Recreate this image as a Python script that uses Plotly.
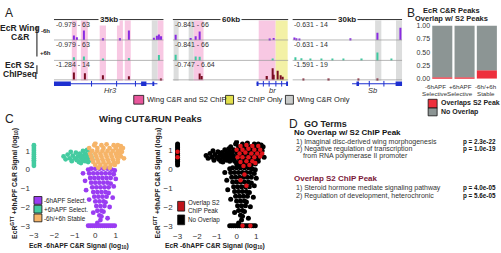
import plotly.graph_objects as go

W, H = 501, 253
FONT = "Liberation Sans, Arial, sans-serif"

# ======================= DATA =======================
# ---- Panel A: genome browser windows (positions in kb from window start) ----
gene_names = ["Hr3", "br", "Sb"]
window_kb = [35, 60, 30]
scale_bar_labels = ["35kb", "60kb", "30kb"]
track_range_labels = [
    ["-0.979 - 63", "-0.979 - 63", "-1.284 - 14"],
    ["-0.841 - 66", "-0.841 - 66", "-0.747 - 6.64"],
    ["-0.631 - 14", "-0.631 - 14", "-1.591 - 19"],
]
track_max = [[63, 63, 14], [66, 66, 6.64], [14, 14, 19]]

hr3_m6_pos = [6.5, 7.3, 9.6, 15.8, 21.2, 23.8, 32.0, 32.8, 33.5, 34.3]
hr3_m6_val = [17, 10, 35, 6, 6, 35, 8, 16, 20, 14]
hr3_p6_pos = [6.5, 9.6, 15.8, 23.8, 33.5]
hr3_p6_val = [12, 14, 5, 9, 20]
hr3_s2_pos = [6.4, 9.8, 15.5, 23.8, 34.2]
hr3_s2_val = [6.0, 5.5, 3.8, 3.0, 1.2]

br_m6_pos = [1.5, 9.5, 12.0, 14.0, 50.5, 52.5]
br_m6_val = [20, 8, 14, 33, 5, 8]
br_p6_pos = [1.5, 12.0, 14.0, 52.0]
br_p6_val = [22, 15, 14, 4]
br_s2_pos = [14.0, 15.0, 49.0, 51.8, 52.5, 54.4, 56.0, 57.2]
br_s2_val = [2.5, 1.5, 1.5, 4.5, 2.0, 3.5, 1.8, 1.2]

sb_m6_pos = [0.5, 1.2, 2.0, 15.8, 23.3, 29.5]
sb_m6_val = [2.0, 1.5, 1.2, 1.5, 6.0, 10.0]
sb_p6_pos = [0.8, 2.5, 5.0, 8.0, 11.0, 14.0, 19.0, 23.3, 27.0]
sb_p6_val = [2.5, 1.8, 1.2, 1.0, 1.5, 1.0, 1.2, 6.5, 1.5]
sb_s2_pos = [3.0, 10.0, 18.0, 23.3]
sb_s2_val = [0.8, 0.6, 0.7, 1.0]

hr3_band_start = [5.7, 8.6, 14.6, 20.1, 22.6, 31.2, 33.1]
hr3_band_end = [7.3, 10.8, 16.6, 22.0, 24.5, 33.1, 35.0]
hr3_band_kind = ["both", "both", "both", "both", "both", "wing", "both"]
br_band_start = [0.5, 8.3, 10.9, 44.6, 53.4]
br_band_end = [3.1, 10.9, 16.0, 53.4, 59.6]
br_band_kind = ["wing", "wing", "both", "both", "s2"]
sb_band_start = [22.6, 28.3]
sb_band_end = [24.3, 30.0]
sb_band_kind = ["wing", "wing"]

hr3_gene_span = [0.0, 33.0]
hr3_exon_start = [0.0, 27.8, 31.4]
hr3_exon_end = [5.4, 29.5, 32.0]
hr3_arrows = [12.0, 20.0, 26.0]
br_gene_span = [43.5, 59.8]
br_exon_start = [43.5, 58.8]
br_exon_end = [44.5, 59.8]
br_arrows = [47.0, 50.0, 53.5, 56.5]
sb_gene_span = [16.3, 30.0]
sb_exon_start = [17.5, 28.2]
sb_exon_end = [18.2, 30.0]
sb_arrows = [21.0, 25.0]
gene_label_kb = [18.1, 51.8, 21.8]

legend_a_labels = ["Wing C&R and S2 ChIP", "S2 ChIP Only", "Wing C&R Only"]

# ---- Panel B ----
b_categories = ["-6hAPF<br>Selective", "+6hAPF<br>Selective", "-6h/+6h<br>Stable"]
b_overlap = [0.03, 0.03, 0.16]
b_no_overlap = [0.97, 0.97, 0.84]
b_ticks = [0, 0.25, 0.5, 0.75, 1.0]
b_tick_text = ["0.00", "0.25", "0.50", "0.75", "1.00"]

# ---- Panel C (log10 signals) ----
m6_x = [-0.35, -0.2, 0.0, 0.2, 0.4, 0.6, 0.8, 0.95,
        -0.3, -0.1, 0.1, 0.3, 0.5, 0.7, 0.9,
        -0.25, -0.05, 0.15, 0.35, 0.55, 0.75,
        -0.2, 0.0, 0.2, 0.4, 0.6, 0.75,
        -0.15, 0.05, 0.25, 0.45, 0.65,
        -0.1, 0.1, 0.3, 0.5, 0.65,
        -0.05, 0.15, 0.35, 0.55,
        0.0, 0.2, 0.4, 0.5,
        0.05, 0.25, 0.45,
        0.1, 0.3, 0.4,
        0.2, 0.3,
        0.25,
        -0.5, -0.45, 0.9, 0.85, -0.3, 0.7, -0.1, 0.6, 0.1, 1.0, -0.6,
        -0.35, -0.25, -0.15, -0.05, 0.05, 0.15, 0.25, 0.35, 0.45, 0.55, 0.65, 0.75, 0.85, 0.95]
m6_y = [0.0, 0.05, 0.05, 0.05, 0.05, 0.05, 0.0, -0.05,
        -0.2, -0.2, -0.2, -0.2, -0.2, -0.2, -0.25,
        -0.45, -0.45, -0.45, -0.45, -0.45, -0.45,
        -0.7, -0.7, -0.7, -0.7, -0.7, -0.75,
        -0.95, -0.95, -0.95, -0.95, -0.95,
        -1.2, -1.2, -1.2, -1.2, -1.25,
        -1.45, -1.45, -1.45, -1.45,
        -1.7, -1.7, -1.7, -1.75,
        -1.95, -1.95, -1.95,
        -2.2, -2.2, -2.25,
        -2.45, -2.5,
        -2.7,
        -0.6, -1.1, -0.9, -1.5, -1.6, -2.0, -2.3, -2.6, -2.85, -0.5, -0.2,
        -3, -3, -3, -3, -3, -3, -3, -3, -3, -3, -3, -3, -3, -3]

p6_x = [-1.55, -1.45, -1.35, -1.25, -1.15, -1.1, -1.0, -0.95, -0.9, -0.85,
        -0.8, -0.75, -0.7, -0.65, -0.6, -0.55, -0.5, -0.5, -0.45, -0.4,
        -0.35, -0.35, -0.3, -0.25, -0.25, -0.2, -0.15, -0.6, -0.4, -1.2, -0.7,
        -3, -3, -3, -3, -3, -3, -3, -3, -3, -3, -3, -3]
p6_y = [0.7, 0.55, 0.8, 0.6, 0.45, 0.75, 0.6, 0.9, 0.5, 0.7,
        0.4, 0.85, 0.6, 0.75, 0.5, 0.65, 0.85, 0.45, 0.7, 0.55,
        0.8, 0.4, 0.65, 0.5, 0.9, 0.7, 0.55, 1.0, 1.05, 0.95, 0.35,
        0.2, 0.3, 0.4, 0.5, 0.6, 0.7, 0.8, 0.9, 1.0, 1.1, 1.2, 1.3]

st_x = [0.9, 1.1, 1.25, 0.3,
        0.1, 0.4, 0.7, 1.0, 1.25,
        -0.15, 0.1, 0.35, 0.6, 0.85, 1.1, 1.3,
        -0.25, 0.0, 0.25, 0.5, 0.75, 1.0, 1.2,
        -0.2, 0.05, 0.3, 0.55, 0.8, 1.05, 1.25,
        -0.15, 0.1, 0.35, 0.6, 0.85, 1.1,
        -0.1, 0.15, 0.4, 0.65, 0.9, 1.1,
        0.0, 0.25, 0.5, 0.75, 0.95,
        0.15, 0.45, 0.7,
        -0.05, 0.55, 1.4, 1.35, -0.3, 0.0]
st_y = [1.3, 1.3, 1.25, 1.3,
        1.15, 1.15, 1.15, 1.15, 1.1,
        1.0, 1.0, 1.0, 1.0, 1.0, 1.0, 0.95,
        0.85, 0.85, 0.85, 0.85, 0.85, 0.85, 0.85,
        0.7, 0.7, 0.7, 0.7, 0.7, 0.7, 0.7,
        0.55, 0.55, 0.55, 0.55, 0.55, 0.55,
        0.4, 0.4, 0.4, 0.4, 0.4, 0.4,
        0.25, 0.25, 0.25, 0.25, 0.25,
        0.1, 0.1, 0.1,
        1.3, 1.35, 0.6, 1.15, 1.15, 1.4]

ov_x = [0.2, 0.5, 0.8, 1.1, 0.0, 0.3, 0.6, 0.9, 1.2, 0.15,
        0.45, 0.75, 1.05, 0.3, 0.6, 0.9, 1.2, 0.5, 0.8, 0.2,
        0.35, 0.65, 0.4, 0.2, 0.5, -3, -3, 0.3, 0.7, 1.3,
        0.05, 0.95]
ov_y = [1.2, 1.25, 1.2, 1.2, 1.0, 1.0, 1.05, 1.0, 1.0, 0.8,
        0.85, 0.8, 0.8, 0.6, 0.6, 0.6, 0.65, 0.4, 0.4, 0.35,
        0.15, 0.2, -0.3, -0.6, -0.9, 0.6, 0.9, -3, -3, 0.8,
        0.6, 0.3]
c_ticks = [-3, -2, -1, 0, 1]

# ---- Panel D ----
go_no_overlap_terms = ["1) Imaginal disc-derived wing morphogenesis",
                       "2) Negative regulation of transcription"]
go_no_overlap_p = ["p = 2.3e-22", "p = 1.0e-19"]
go_overlap_terms = ["1) Steroid hormone mediate signaling pathway",
                    "2) Regulation of development, heterochronic"]
go_overlap_p = ["p = 4.0e-05", "p = 5.6e-05"]

# ======================= HELPERS =======================
def px(x):
    return x / W


def py(y):
    return 1 - y / H


annotations = []
shapes = []


def ann(text, x, y, size=8, bold=False, color="#222", xanchor="left", italic=False, **kw):
    if bold:
        text = "<b>" + text + "</b>"
    if italic:
        text = "<i>" + text + "</i>"
    d = dict(text=text, x=px(x), y=py(y), xref="paper", yref="paper",
             xanchor=xanchor, yanchor="middle", showarrow=False, borderpad=0,
             font=dict(family=FONT, size=size, color=color))
    d.update(kw)
    annotations.append(d)


def rect(x0, y0, x1, y1, fill, line="#111", lw=0.8):
    shapes.append(dict(type="rect", xref="paper", yref="paper",
                       x0=px(x0), x1=px(x1), y0=py(y1), y1=py(y0),
                       fillcolor=fill, line=dict(color=line, width=lw)))


fig = go.Figure()

# ======================= PANEL A =======================
PURPLE = "#8a2be2"
TEAL = "#3fc9a0"
DRED = "#7a0c22"
BLUE = "#1d2fd0"
band_colors = {"both": "#f8c8e3", "s2": "#f3f1a6", "wing": "#dcdddd"}

reg_px = [(53, 163), (172, 288), (292, 402)]
PXU = 20.3                     # pixels per y unit
base_px = [37, 58, 78]         # baselines of the three tracks
y_top_px, y_bot_px = 14, 92
y_range = [-(y_bot_px - 78) / PXU, (78 - y_top_px) / PXU]
offsets = [(78 - b) / PXU for b in base_px]
track_h = 17.5 / PXU
gene_y = (78 - 82) / PXU

peaks = [
    [(hr3_m6_pos, hr3_m6_val), (hr3_p6_pos, hr3_p6_val), (hr3_s2_pos, hr3_s2_val)],
    [(br_m6_pos, br_m6_val), (br_p6_pos, br_p6_val), (br_s2_pos, br_s2_val)],
    [(sb_m6_pos, sb_m6_val), (sb_p6_pos, sb_p6_val), (sb_s2_pos, sb_s2_val)],
]
bands = [(hr3_band_start, hr3_band_end, hr3_band_kind),
         (br_band_start, br_band_end, br_band_kind),
         (sb_band_start, sb_band_end, sb_band_kind)]
genes = [(hr3_gene_span, hr3_exon_start, hr3_exon_end, hr3_arrows),
         (br_gene_span, br_exon_start, br_exon_end, br_arrows),
         (sb_gene_span, sb_exon_start, sb_exon_end, sb_arrows)]
track_colors = [PURPLE, TEAL, DRED]

layout_axes = {}
for r in range(3):
    sfx = "" if r == 0 else str(r + 1)
    xa, ya = "x" + sfx, "y" + sfx
    L = window_kb[r]
    x0p, x1p = reg_px[r]
    layout_axes["xaxis" + sfx] = dict(domain=[px(x0p), px(x1p)], range=[0, L], visible=False,
                                      anchor=ya, fixedrange=True)
    layout_axes["yaxis" + sfx] = dict(domain=[py(y_bot_px), py(y_top_px)], range=y_range,
                                      visible=False, anchor=xa, fixedrange=True)
    bs, be, bk = bands[r]
    for s, e, k in zip(bs, be, bk):
        shapes.append(dict(type="rect", xref=xa, yref="paper", x0=s, x1=e,
                           y0=py(79), y1=py(17), fillcolor=band_colors[k],
                           line=dict(width=0), layer="below"))
    for b in base_px:
        shapes.append(dict(type="line", xref=xa, yref="paper", x0=0, x1=L,
                           y0=py(b), y1=py(b), line=dict(color="#9a9a9a", width=0.7)))
    shapes.append(dict(type="line", xref=xa, yref="paper", x0=0, x1=L,
                       y0=py(16), y1=py(16), line=dict(color="#333", width=1)))
    annotations.append(dict(text="<b>" + scale_bar_labels[r] + "</b>", x=L / 2, y=py(15.5),
                            xref=xa, yref="paper", showarrow=False, xanchor="center",
                            yanchor="middle", bgcolor="white", borderpad=1,
                            font=dict(family=FONT, size=8, color="#222")))
    for t in range(3):
        pos, val = peaks[r][t]
        fig.add_trace(go.Bar(x=pos, y=[v / track_max[r][t] * track_h for v in val],
                             base=offsets[t], width=L * 0.011,
                             marker=dict(color=track_colors[t], line=dict(width=0)),
                             xaxis=xa, yaxis=ya))
        ann(track_range_labels[r][t], x0p + 1, base_px[t] - 16, size=7, color="#333")
    span, es, ee, arr = genes[r]
    fig.add_trace(go.Scatter(x=span, y=[gene_y] * 2, mode="lines",
                             line=dict(color=BLUE, width=1.2), xaxis=xa, yaxis=ya))
    ex, ey = [], []
    for s, e in zip(es, ee):
        ex += [s, e, None]
        ey += [gene_y, gene_y, None]
    fig.add_trace(go.Scatter(x=ex, y=ey, mode="lines", line=dict(color=BLUE, width=4.5),
                             xaxis=xa, yaxis=ya))
    fig.add_trace(go.Scatter(x=arr, y=[gene_y] * len(arr), mode="markers",
                             marker=dict(symbol="line-ns", size=4, line=dict(color=BLUE, width=1)),
                             xaxis=xa, yaxis=ya))
    annotations.append(dict(text="<i>" + gene_names[r] + "</i>", x=gene_label_kb[r], y=py(89),
                            xref=xa, yref="paper", showarrow=False, xanchor="center",
                            yanchor="middle", font=dict(family=FONT, size=7.5, color="#333")))

ann("A", 3, 9, size=12)
ann("EcR Wing", 19, 25, size=8.5, bold=True, xanchor="center")
ann("C&R", 19, 34, size=8.5, bold=True, xanchor="center")
ann("-6h", 39, 28, size=6, bold=True)
ann("+6h", 38, 50, size=6, bold=True)
ann("EcR S2", 19, 63, size=8.5, bold=True, xanchor="center")
ann("ChIPseq", 19, 72, size=8.5, bold=True, xanchor="center")
shapes.append(dict(type="line", xref="paper", yref="paper", x0=px(36), x1=px(36),
                   y0=py(23), y1=py(54), line=dict(color="#111", width=1)))
shapes.append(dict(type="line", xref="paper", yref="paper", x0=px(36), x1=px(36),
                   y0=py(63), y1=py(72), line=dict(color="#111", width=1)))

rect(133, 94, 143, 103, "#e8579c")
ann(legend_a_labels[0], 145, 98.5, size=7.5)
rect(225, 94, 233, 103, "#e3e04c")
ann(legend_a_labels[1], 235, 98.5, size=7.5)
rect(285, 94, 293, 103, "#c9cbca")
ann(legend_a_labels[2], 296, 98.5, size=7.5)

# ======================= PANEL B =======================
RED_B = "#ee2f3c"
GRAY_B = "#8c9594"
fig.add_trace(go.Bar(x=b_categories, y=b_overlap, base=[0, 0, 0], width=0.9,
                     marker=dict(color=RED_B, line=dict(width=0)), xaxis="x4", yaxis="y4"))
fig.add_trace(go.Bar(x=b_categories, y=b_no_overlap, base=b_overlap, width=0.9,
                     marker=dict(color=GRAY_B, line=dict(width=0)), xaxis="x4", yaxis="y4"))
layout_axes["xaxis4"] = dict(domain=[px(431), px(498)], anchor="y4", showline=False,
                             ticks="", showticklabels=False,
                             fixedrange=True, type="category")
layout_axes["yaxis4"] = dict(domain=[py(77), py(22)], anchor="x4", range=[0, 1.0],
                             tickvals=b_ticks, ticktext=b_tick_text, showgrid=False,
                             zeroline=False, showline=False, ticks="",
                             tickfont=dict(family=FONT, size=7, color="#333"), fixedrange=True)
b_label_px = [435, 460, 486]
for i, cat in enumerate(b_categories):
    top, bot = cat.split("<br>")
    ann(top, b_label_px[i], 84.5, size=6.2, color="#333", xanchor="center")
    ann(bot, b_label_px[i], 92.5, size=6.2, color="#333", xanchor="center")
ann("B", 406, 9, size=12)
ann("EcR C&R Peaks", 451, 6.5, size=7.5, bold=True, xanchor="center")
ann("Overlap w/ S2 Peaks", 451, 14.5, size=7.5, bold=True, xanchor="center")
rect(428, 98, 437, 107, RED_B)
rect(428, 107, 437, 115, GRAY_B)
ann("Overlaps S2 Peak", 440, 102, size=7, bold=True)
ann("No Overlap", 440, 111, size=7, bold=True)

# ======================= PANEL C =======================
C_PURPLE = "#9a3cf2"
C_TEAL = "#44cba0"
C_ORANGE = "#f6b468"
ms = 4.8
fig.add_trace(go.Scatter(x=m6_x, y=m6_y, mode="markers", marker=dict(color=C_PURPLE, size=ms),
                         xaxis="x5", yaxis="y5"))
fig.add_trace(go.Scatter(x=p6_x, y=p6_y, mode="markers", marker=dict(color=C_TEAL, size=ms),
                         xaxis="x5", yaxis="y5"))
fig.add_trace(go.Scatter(x=st_x, y=st_y, mode="markers", marker=dict(color=C_ORANGE, size=ms),
                         xaxis="x5", yaxis="y5"))
all_x = m6_x + p6_x + st_x
all_y = m6_y + p6_y + st_y
fig.add_trace(go.Scatter(x=all_x, y=all_y, mode="markers", marker=dict(color="#000", size=5),
                         xaxis="x6", yaxis="y6"))
fig.add_trace(go.Scatter(x=ov_x, y=ov_y, mode="markers", marker=dict(color="#e0141a", size=4.5),
                         xaxis="x6", yaxis="y6"))

axc = dict(showgrid=False, zeroline=False, showline=False, ticks="", tickvals=c_ticks,
           tickfont=dict(family=FONT, size=8, color="#333"), fixedrange=True)
layout_axes["xaxis5"] = dict(domain=[px(29.9), px(127.3)], range=[-3.15, 1.6], anchor="y5", **axc)
layout_axes["yaxis5"] = dict(domain=[py(231.9), py(141.4)], range=[-3.2, 1.5], anchor="x5", **axc)
layout_axes["xaxis6"] = dict(domain=[px(173), px(267.6)], range=[-3.2, 1.6], anchor="y6", **axc)
layout_axes["yaxis6"] = dict(domain=[py(232), py(140.1)], range=[-3.2, 1.5], anchor="x6", **axc)

ann("C", 3, 118, size=12)
ann("Wing CUT&RUN Peaks", 150, 118, size=9.5, bold=True, xanchor="center")
ytitle = "EcR<sup>GTT</sup> +6hAPF C&R Signal (log<sub>10</sub>)"
xtitle = "EcR -6hAPF C&R Signal (log<sub>10</sub>)"
ann(ytitle, 14, 184, size=6.8, bold=True, xanchor="center", textangle=-90)
ann(ytitle, 157, 184, size=6.8, bold=True, xanchor="center", textangle=-90)
ann(xtitle, 78, 248.5, size=6.8, bold=True, xanchor="center")
ann(xtitle, 214, 248.5, size=6.8, bold=True, xanchor="center")

rect(33, 198, 41, 206, C_PURPLE)
rect(33, 207, 41, 215, C_TEAL)
rect(33, 216, 41, 224, C_ORANGE)
ann("-6hAPF Select.", 42, 202, size=6.3)
ann("+6hAPF Select.", 42, 211, size=6.3)
ann("-6h/+6h Stable", 42, 220.5, size=6.3)
rect(177, 203, 184, 213, "#c0141a")
rect(177, 217, 184, 227, "#000")
ann("Overlap S2", 186, 205, size=6.3)
ann("ChIP Peak", 186, 212, size=6.3)
ann("No Overlap", 186, 222, size=6.3)

# ======================= PANEL D =======================
ann("D", 288, 123, size=12)
ann("GO Terms", 303, 123, size=9, bold=True)
ann("No Overlap w/ S2 ChIP Peak", 293, 132.5, size=8, bold=True, color="#111")
ann(go_no_overlap_terms[0], 295, 142, size=7, color="#333")
ann(go_no_overlap_p[0], 462, 142, size=6.3, bold=True, color="#111")
ann(go_no_overlap_terms[1], 295, 149.5, size=7, color="#333")
ann(go_no_overlap_p[1], 462, 149.5, size=6.3, bold=True, color="#111")
ann("from RNA polymerase II promoter", 302, 156.5, size=7, color="#333")
ann("Overlap S2 ChIP Peak", 293, 179, size=8, bold=True, color="#7a1737")
ann(go_overlap_terms[0], 295, 189, size=7, color="#333")
ann(go_overlap_p[0], 462, 189, size=6.3, bold=True, color="#111")
ann(go_overlap_terms[1], 295, 197, size=7, color="#333")
ann(go_overlap_p[1], 462, 197, size=6.3, bold=True, color="#111")

fig.update_layout(
    width=W, height=H, margin=dict(l=0, r=0, t=0, b=0),
    paper_bgcolor="white", plot_bgcolor="white",
    showlegend=False, barmode="overlay", hovermode=False,
    font=dict(family=FONT),
    annotations=annotations, shapes=shapes, **layout_axes,
)
fig.write_html("out.html", config={"displayModeBar": False},
               post_script="document.body.style.margin='0';document.body.style.overflow='hidden';")
